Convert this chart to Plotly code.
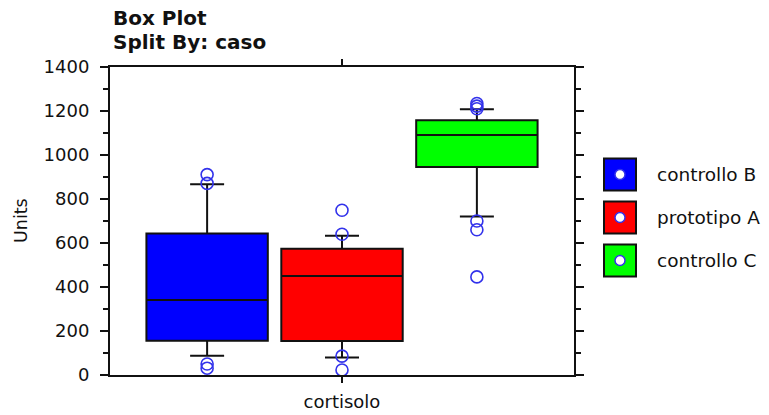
import plotly.graph_objects as go

# Summary statistics of cortisolo per group (caso)
groups = ["controllo B", "prototipo A", "controllo C"]
box_colors = ["#0000ff", "#ff0000", "#00ff00"]
q1 = [156, 154, 945]
median = [341, 450, 1091]
q3 = [643, 574, 1158]
lower_whisker = [88, 79, 721]
upper_whisker = [867, 633, 1208]
outliers = [
    [911, 871, 50, 31],
    [749, 640, 86, 23],
    [1234, 1222, 1210, 700, 660, 446],
]
variable = "cortisolo"
y_ticks = [0, 200, 400, 600, 800, 1000, 1200, 1400]

FONT = "DejaVu Sans"
W, H = 769, 415
M_L, M_R, M_T, M_B = 110, 195, 67, 40
X_RANGE = [-0.72, len(groups) - 1 + 0.72]
Y_RANGE = [0, 1400]

positions = list(range(len(groups)))
center = (len(groups) - 1) / 2

fig = go.Figure()
for i, name in enumerate(groups):
    fig.add_trace(go.Box(
        x=[positions[i]],
        q1=[q1[i]], median=[median[i]], q3=[q3[i]],
        lowerfence=[lower_whisker[i]], upperfence=[upper_whisker[i]],
        width=0.9, whiskerwidth=0.28,
        fillcolor=box_colors[i],
        line=dict(color="#111111", width=2),
        name=name, showlegend=False, hoverinfo="skip",
    ))
    fig.add_trace(go.Scatter(
        x=[positions[i]] * len(outliers[i]), y=outliers[i],
        mode="markers",
        marker=dict(symbol="circle-open", size=12,
                    color="rgb(50,50,235)", line=dict(width=1.6)),
        showlegend=False, hoverinfo="skip",
    ))

# pixel -> paper helpers for the hand-drawn legend and titles
pw, ph = W - M_L - M_R, H - M_T - M_B
def px(x):
    return (x - M_L) / pw
def py(y):
    return (H - M_B - y) / ph

shapes = []
annotations = []
for i, name in enumerate(groups):
    cy = 174.5 + 43 * i
    shapes.append(dict(type="rect", xref="paper", yref="paper",
                       x0=px(604), x1=px(636), y0=py(cy - 16), y1=py(cy + 16),
                       fillcolor=box_colors[i], line=dict(color="#111111", width=2)))
    shapes.append(dict(type="circle", xref="paper", yref="paper",
                       x0=px(615), x1=px(625), y0=py(cy - 5), y1=py(cy + 5),
                       fillcolor="white", line=dict(color="rgb(50,50,235)", width=1.5)))
    annotations.append(dict(text=name, xref="paper", yref="paper",
                            x=px(655), y=py(cy), xanchor="left", yanchor="middle",
                            showarrow=False, font=dict(family=FONT, size=18.5, color="#111111")))

annotations.append(dict(text="<b>Box Plot</b>", xref="paper", yref="paper",
                        x=px(111), y=py(18), xanchor="left", yanchor="middle",
                        showarrow=False, font=dict(family=FONT, size=20, color="#111111")))
annotations.append(dict(text="<b>Split By: caso</b>", xref="paper", yref="paper",
                        x=px(111), y=py(42), xanchor="left", yanchor="middle",
                        showarrow=False, font=dict(family=FONT, size=20, color="#111111")))
annotations.append(dict(text="Units", xref="paper", yref="paper",
                        x=px(21), y=0.5, xanchor="center", yanchor="middle", textangle=-90,
                        showarrow=False, font=dict(family=FONT, size=17.5, color="#111111")))

fig.update_layout(
    width=W, height=H,
    margin=dict(l=M_L, r=M_R, t=M_T, b=M_B, pad=0, autoexpand=False),
    paper_bgcolor="white", plot_bgcolor="white",
    showlegend=False,
    shapes=shapes, annotations=annotations,
    xaxis=dict(range=X_RANGE, tickvals=[center], ticktext=[variable],
               ticks="outside", ticklen=6, tickwidth=2, tickcolor="#111111",
               ticklabelstandoff=3, automargin=False,
               showline=True, linecolor="#111111", linewidth=2, mirror="ticks",
               showgrid=False, zeroline=False,
               tickfont=dict(family=FONT, size=18, color="#111111")),
    yaxis=dict(range=Y_RANGE, tickvals=y_ticks,
               ticks="outside", ticklen=8, tickwidth=2, tickcolor="#111111",
               ticklabelstandoff=7, automargin=False,
               minor=dict(dtick=100, ticks="outside", ticklen=5, tickwidth=2,
                          tickcolor="#111111", showgrid=False),
               showline=True, linecolor="#111111", linewidth=2, mirror="ticks",
               showgrid=False, zeroline=False,
               tickfont=dict(family=FONT, size=18, color="#111111")),
)

fig.write_html("out.html")
